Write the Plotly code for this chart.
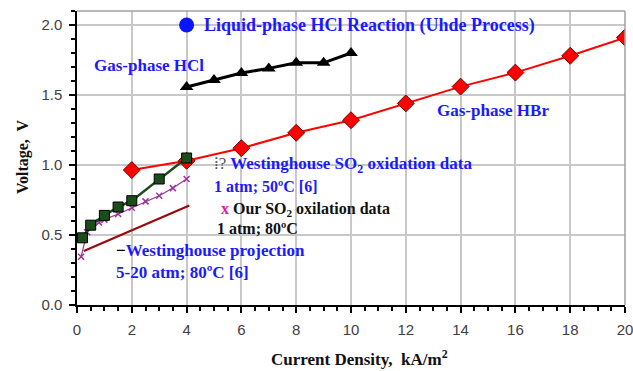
import plotly.graph_objects as go

# Data
hcl_x = [4, 5, 6, 7, 8, 9, 10]
hcl_y = [1.557, 1.607, 1.657, 1.69, 1.73, 1.73, 1.80]

hbr_x = [2, 4, 6, 8, 10, 12, 14, 16, 18, 20]
hbr_y = [0.964, 1.03, 1.12, 1.23, 1.32, 1.44, 1.56, 1.66, 1.78, 1.91]

liq_x = [4]
liq_y = [2.0]

wh_x = [0.2, 0.5, 1.0, 1.5, 2.0, 3.0, 4.0]
wh_y = [0.48, 0.57, 0.64, 0.70, 0.745, 0.90, 1.05]

our_x = [0.15, 0.37, 0.55, 0.8, 1.0, 1.5, 2.0, 2.5, 3.0, 3.5, 4.0]
our_y = [0.345, 0.52, 0.56, 0.59, 0.61, 0.65, 0.695, 0.74, 0.78, 0.835, 0.90]

proj_x = [0.25, 4.1]
proj_y = [0.385, 0.71]

x_ticks = [0, 2, 4, 6, 8, 10, 12, 14, 16, 18, 20]
y_ticks = [0.0, 0.5, 1.0, 1.5, 2.0]
y_tick_labels = ["0.0", "0.5", "1.0", "1.5", "2.0"]

SERIF = "Liberation Serif"
SANS = "Liberation Sans"
BLUE = "#1a1aff"

fig = go.Figure()

fig.add_trace(go.Scatter(x=proj_x, y=proj_y, mode="lines",
                         line=dict(color="#9a0a0a", width=2.2)))
fig.add_trace(go.Scatter(x=hbr_x, y=hbr_y, mode="lines+markers",
                         line=dict(color="#ff0000", width=2),
                         marker=dict(symbol="diamond", size=13, color="#ff0000",
                                     line=dict(color="#700000", width=1))))
fig.add_trace(go.Scatter(x=hcl_x, y=hcl_y, mode="lines+markers",
                         line=dict(color="#000000", width=3),
                         marker=dict(symbol="triangle-up", size=12, color="#000000")))
fig.add_trace(go.Scatter(x=our_x, y=our_y, mode="lines+markers",
                         line=dict(color="#9b359b", width=1.2),
                         marker=dict(symbol="x-thin", size=6,
                                     line=dict(color="#9b359b", width=1.5))))
fig.add_trace(go.Scatter(x=wh_x, y=wh_y, mode="lines+markers",
                         line=dict(color="#1b4d1b", width=2.5),
                         marker=dict(symbol="square", size=10, color="#1b4d1b",
                                     line=dict(color="#000000", width=1))))
fig.add_trace(go.Scatter(x=liq_x, y=liq_y, mode="markers",
                         marker=dict(symbol="circle", size=15, color="#0a14ff")))

ann_font = dict(family=SERIF, size=17, color=BLUE, weight="bold")
ann_black = dict(family=SERIF, size=16, color="#111111", weight="bold")

anns = [
    dict(x=4.56, y=2.0, text="Liquid-phase HCl Reaction (Uhde Process)",
         font=dict(family=SERIF, size=18, color=BLUE, weight="bold")),
    dict(x=0.55, y=1.71, text="Gas-phase HCl", font=ann_font),
    dict(x=13.07, y=1.39, text="Gas-phase HBr", font=ann_font),
    dict(x=4.92, y=1.0,
         text='<span style="color:#555555;font-weight:normal">⁞?</span> Westinghouse SO<sub>2</sub> oxidation data',
         font=ann_font),
    dict(x=4.92, y=0.85, text="1 atm; 50ºC [6]",
         font=dict(family=SERIF, size=16, color=BLUE, weight="bold")),
    dict(x=5.17, y=0.68,
         text='<span style="color:#e0209f">x</span> Our SO<sub>2</sub> oxilation data',
         font=ann_black),
    dict(x=5.03, y=0.55, text="1 atm; 80ºC", font=ann_black),
    dict(x=1.36, y=0.39,
         text='<span style="color:#000000">−</span>Westinghouse projection',
         font=ann_font),
    dict(x=1.34, y=0.23, text="5-20 atm; 80ºC [6]", font=ann_font),
]
for a in anns:
    fig.add_annotation(xref="x", yref="y", xanchor="left", yanchor="middle",
                       showarrow=False, **a)

# axis titles
fig.add_annotation(xref="paper", yref="paper", x=0.516, y=-0.18, yanchor="middle",
                   xanchor="center", showarrow=False,
                   text="Current Density,  kA/m<sup>2</sup>",
                   font=dict(family=SERIF, size=17, color="#111111", weight="bold"))
fig.add_annotation(xref="paper", yref="paper", x=-0.098, y=0.504, xanchor="center",
                   yanchor="middle", showarrow=False, textangle=-90,
                   text="Voltage,  V",
                   font=dict(family=SERIF, size=16, color="#111111", weight="bold"))

# top / right grey border
fig.add_shape(type="line", xref="paper", yref="paper", x0=0, x1=1, y0=1, y1=1,
              line=dict(color="#a0a0a0", width=1.5))
fig.add_shape(type="line", xref="paper", yref="paper", x0=1, x1=1, y0=0, y1=1,
              line=dict(color="#a0a0a0", width=1.5))

fig.update_xaxes(range=[0, 20], tickvals=x_ticks, showgrid=True,
                 gridcolor="#c8c8c8", gridwidth=1.5,
                 showline=True, linecolor="#000000", linewidth=1.5,
                 ticks="outside", ticklen=6, tickcolor="#000000", tickwidth=1.5,
                 minor=dict(dtick=0.5, ticks="outside", ticklen=4, tickcolor="#000000",
                            showgrid=False),
                 tickfont=dict(family=SANS, size=15, color="#404040"),
                 ticklabelstandoff=4, ticklabeloverflow="allow",
                 zeroline=False, automargin=False)
fig.update_yaxes(range=[0, 2.1], tickvals=y_ticks, ticktext=y_tick_labels,
                 showgrid=True, gridcolor="#c8c8c8", gridwidth=1.5,
                 showline=True, linecolor="#000000", linewidth=1.5,
                 ticks="outside", ticklen=6, tickcolor="#000000", tickwidth=1.5,
                 minor=dict(dtick=0.1, ticks="outside", ticklen=4, tickcolor="#000000",
                            showgrid=False),
                 tickfont=dict(family=SANS, size=15, color="#404040"),
                 ticklabelstandoff=4,
                 zeroline=False, automargin=False)

fig.update_layout(width=633, height=371, showlegend=False,
                  margin=dict(l=77, r=8, t=11, b=66),
                  plot_bgcolor="#ffffff", paper_bgcolor="#ffffff")

fig.write_html("out.html", config={"displayModeBar": False},
               post_script="document.body.style.margin='0';")
